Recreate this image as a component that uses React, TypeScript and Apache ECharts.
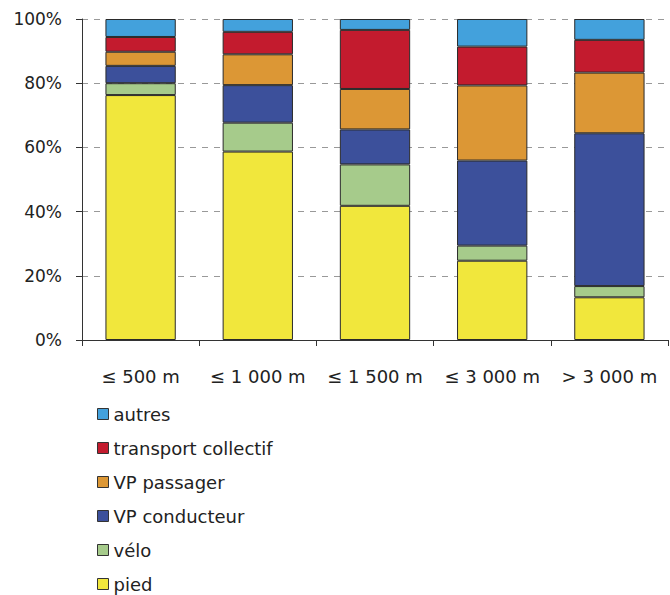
import React, { useEffect, useRef } from "react";
import * as echarts from "echarts";

const categories = ["≤ 500 m", "≤ 1 000 m", "≤ 1 500 m", "≤ 3 000 m", "> 3 000 m"];
const pied = [76.3, 58.7, 41.8, 24.7, 13.3];
const velo = [3.7, 9.0, 12.9, 4.7, 3.5];
const vpConducteur = [5.4, 11.7, 10.9, 26.5, 47.6];
const vpPassager = [4.4, 9.6, 12.6, 23.4, 18.9];
const transportCollectif = [4.6, 7.0, 18.4, 12.1, 10.2];
const autres = [5.6, 4.0, 3.4, 8.6, 6.5];
const yTicks = [0, 20, 40, 60, 80, 100];

const seriesDefs = [
  { name: "pied", data: pied, color: "#f1e73c" },
  { name: "vélo", data: velo, color: "#a6cb8b" },
  { name: "VP conducteur", data: vpConducteur, color: "#3c509b" },
  { name: "VP passager", data: vpPassager, color: "#dc9735" },
  { name: "transport collectif", data: transportCollectif, color: "#c31b2e" },
  { name: "autres", data: autres, color: "#43a1dc" },
];

const FONT = "DejaVu Sans";

export default function App() {
  const ref = useRef<HTMLDivElement>(null);
  useEffect(() => {
    if (!ref.current) return;
    const chart = echarts.init(ref.current, null, { renderer: "svg" });
    chart.setOption({
      animation: false,
      textStyle: { fontFamily: FONT },
      grid: { left: 82, right: 2, top: 19, bottom: 255, containLabel: false },
      legend: {
        orient: "vertical",
        left: 97,
        top: 405,
        padding: 0,
        itemWidth: 11,
        itemHeight: 11,
        itemGap: 16,
        icon: "rect",
        data: [...seriesDefs].reverse().map((s) => s.name),
        textStyle: { fontFamily: FONT, fontSize: 18, color: "#222" },
        itemStyle: { borderColor: "#333", borderWidth: 1 },
      },
      xAxis: {
        type: "category",
        data: categories,
        axisLine: { lineStyle: { color: "#333", width: 1 } },
        axisTick: { show: true, length: 6, lineStyle: { color: "#333" } },
        axisLabel: { fontFamily: FONT, fontSize: 18, color: "#222", margin: 27, interval: 0 },
      },
      yAxis: {
        type: "value",
        min: 0,
        max: 100,
        interval: 20,
        axisLine: { show: true, lineStyle: { color: "#333", width: 1 } },
        axisTick: { show: true, length: 6, lineStyle: { color: "#333" } },
        axisLabel: {
          fontFamily: FONT,
          fontSize: 17,
          color: "#222",
          margin: 20,
          formatter: (v: number) => (yTicks.includes(v) ? v + "%" : ""),
        },
        splitLine: { show: true, lineStyle: { color: "#999", type: [6, 6], width: 1 } },
      },
      series: seriesDefs.map((s) => ({
        name: s.name,
        type: "bar",
        stack: "total",
        barWidth: "60%",
        data: s.data,
        itemStyle: { color: s.color, borderColor: "#2a2a2a", borderWidth: 1 },
      })),
    });
    return () => chart.dispose();
  }, []);
  return (
    <div
      ref={ref}
      style={{ position: "fixed", left: 0, top: 0, width: 670, height: 595, background: "#fff" }}
    />
  );
}
